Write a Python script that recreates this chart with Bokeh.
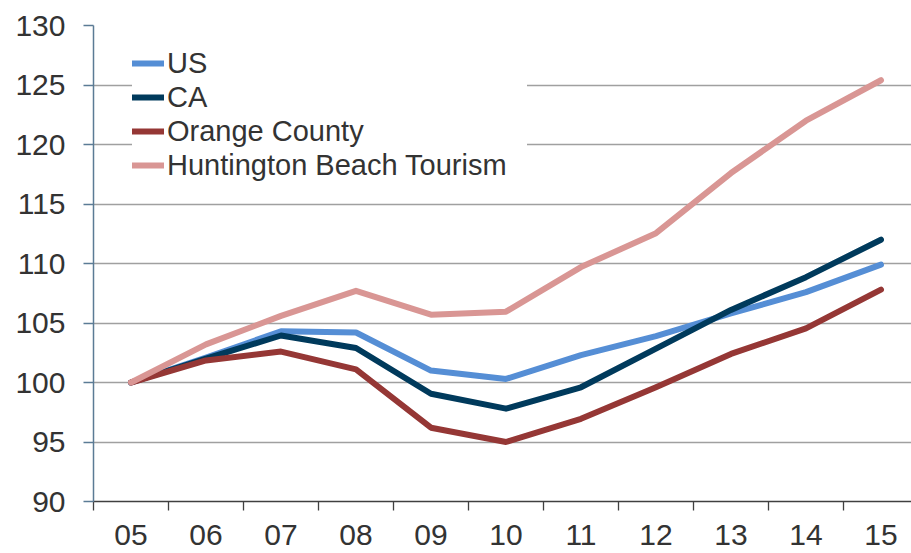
from bokeh.plotting import figure
from bokeh.models import Range1d, FixedTicker, Legend, LegendItem
from bokeh.embed import file_html
from bokeh.resources import INLINE

years = ["05", "06", "07", "08", "09", "10", "11", "12", "13", "14", "15"]
us = [100, 102.1, 104.3, 104.2, 101.0, 100.3, 102.3, 103.9, 105.8, 107.6, 109.9]
ca = [100, 102.0, 103.95, 102.9, 99.05, 97.8, 99.6, 102.85, 106.1, 108.85, 112.0]
oc = [100, 101.85, 102.6, 101.1, 96.2, 95.0, 96.95, 99.6, 102.4, 104.55, 107.8]
hbt = [100, 103.2, 105.6, 107.7, 105.7, 105.95, 109.7, 112.55, 117.6, 122.0, 125.4]
series_names = ["US", "CA", "Orange County", "Huntington Beach Tourism"]
series_colors = ["#558ED5", "#003A5C", "#953735", "#D99694"]
y_ticks = [90, 95, 100, 105, 110, 115, 120, 125, 130]

x = list(range(len(years)))

p = figure(width=911, height=553, output_backend="svg", toolbar_location=None,
           x_range=Range1d(-0.5, 10.407), y_range=Range1d(90, 130),
           min_border_left=93, min_border_top=25, min_border_right=0, min_border_bottom=52)
p.outline_line_color = None
p.background_fill_color = "white"
p.border_fill_color = "white"

p.xgrid.visible = False
p.ygrid.ticker = FixedTicker(ticks=y_ticks)
p.ygrid.grid_line_color = "#A0A0A0"
p.ygrid.grid_line_width = 1.3

font = "Liberation Sans"
p.xaxis.ticker = FixedTicker(ticks=x, minor_ticks=[i - 0.5 for i in range(len(years) + 1)])
p.xaxis.major_label_overrides = {i: years[i] for i in x}
p.xaxis.major_tick_out = 0
p.xaxis.major_tick_in = 0
p.xaxis.minor_tick_out = 9
p.xaxis.minor_tick_in = 0
p.xaxis.minor_tick_line_color = "#404040"
p.xaxis.minor_tick_line_width = 1.3
p.xaxis.axis_line_color = "#404040"
p.xaxis.axis_line_width = 1.3
p.xaxis.major_label_standoff = 14
p.xaxis.major_label_text_line_height = 0.8
p.xaxis.major_label_text_font = font
p.xaxis.major_label_text_font_size = "30px"
p.xaxis.major_label_text_color = "#333333"

p.yaxis.ticker = FixedTicker(ticks=y_ticks)
p.yaxis.major_tick_out = 10
p.yaxis.major_tick_in = 0
p.yaxis.minor_tick_out = 0
p.yaxis.minor_tick_in = 0
p.yaxis.axis_line_color = "#5B7B95"
p.yaxis.axis_line_width = 1.5
p.yaxis.major_tick_line_color = "#5B7B95"
p.yaxis.major_tick_line_width = 1.3
p.yaxis.major_label_standoff = 18
p.yaxis.major_label_text_font = font
p.yaxis.major_label_text_font_size = "30px"
p.yaxis.major_label_text_color = "#333333"

renderers = []
for vals, col in zip([us, ca, oc, hbt], series_colors):
    r = p.line(x, vals, line_color=col, line_width=6, line_join="round", line_cap="round")
    renderers.append(r)

items = [LegendItem(label=n, renderers=[r]) for n, r in zip(series_names, renderers)]
legend = Legend(items=items, location=(39, 319))
legend.label_text_font = font
legend.label_text_font_size = "29px"
legend.label_text_color = "#333333"
legend.glyph_width = 32
legend.glyph_height = 34
legend.label_height = 34
legend.label_width = 360
legend.label_standoff = 3
legend.spacing = 0
legend.padding = 0
legend.margin = 0
legend.border_line_color = None
legend.background_fill_color = "white"
legend.background_fill_alpha = 1.0
p.add_layout(legend)

open("out.html", "w").write(file_html(p, INLINE))
